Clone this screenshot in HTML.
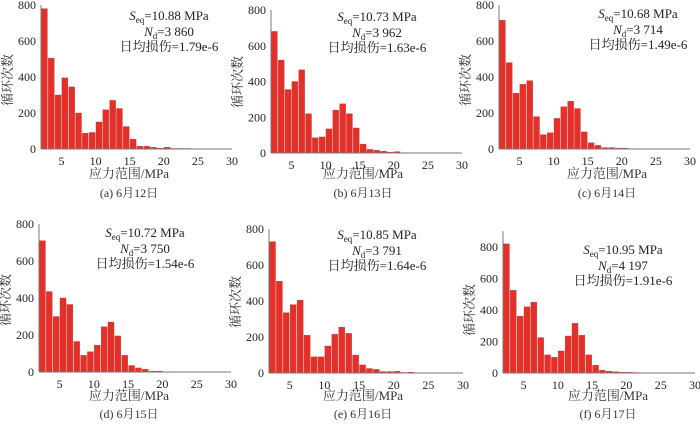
<!DOCTYPE html>
<html><head><meta charset="utf-8">
<style>
html,body{margin:0;padding:0;background:#fff;}
svg{display:block;font-family:"Liberation Serif","Noto Serif CJK SC",serif;}
</style></head>
<body>
<svg id="fig" width="700" height="424" viewBox="0 0 700 424" xmlns="http://www.w3.org/2000/svg"></svg>
<script>
// Data: cycle counts per 1 MPa stress range bin (bins starting at 2 MPa)
const xTicks = [5, 10, 15, 20, 25, 30];
const yTicks = [0, 200, 400, 600, 800];
const valsA = [780,505,300,395,345,200,88,92,150,218,270,225,125,55,15,15,10,5,10,3,3,3,1,1,1,0,0,0];
const valsB = [680,520,355,400,465,220,85,90,135,240,275,220,140,50,20,15,10,5,8,2,2,1,1,1,1,0,0,0];
const valsC = [715,480,310,360,380,180,80,90,170,235,265,225,95,35,20,8,8,5,5,2,2,1,1,1,0,0,0,0];
const valsD = [710,435,300,400,365,165,90,110,145,245,270,195,90,35,22,15,5,5,2,2,2,1,1,2,1,0,0,0];
const valsE = [730,510,335,380,405,210,90,90,150,215,255,220,100,45,25,20,8,8,10,3,5,2,1,1,1,0,0,0];
const valsF = [820,525,360,420,450,225,115,100,140,235,315,240,115,50,18,12,8,5,5,3,2,1,1,1,2,1,0,0];
const seqs = ["10.88","10.73","10.68","10.72","10.85","10.95"];
const nds = ["3 860","3 962","3 714","3 750","3 791","4 197"];
const dmgs = ["1.79e-6","1.63e-6","1.49e-6","1.54e-6","1.64e-6","1.91e-6"];
const captions = ["(a) 6月12日","(b) 6月13日","(c) 6月14日","(d) 6月15日","(e) 6月16日","(f) 6月17日"];

const panels = [
 {id:'a',vals:valsA,x0:41,x1:232,y0:149,y8:5,ymax:800,ax:169,ay:16,cx:129,ly:178,cy:197,yl:80},
 {id:'b',vals:valsB,x0:271,x1:462,y0:153,y8:10,ymax:800,ax:377,ay:17,cx:363,ly:178,cy:197,yl:82},
 {id:'c',vals:valsC,x0:499,x1:690,y0:149,y8:5,ymax:800,ax:638,ay:14,cx:607,ly:178,cy:197,yl:80},
 {id:'d',vals:valsD,x0:39,x1:231,y0:372,y8:224,ymax:800,ax:145,ay:233,cx:129,ly:400,cy:418,yl:300},
 {id:'e',vals:valsE,x0:269,x1:463,y0:373,y8:229,ymax:800,ax:377,ay:235,cx:363,ly:400,cy:418,yl:302},
 {id:'f',vals:valsF,x0:503,x1:695,y0:373,y8:247,ymax:900,ax:623,ay:250,cx:608,ly:400,cy:418,yl:310}
];
const NS='http://www.w3.org/2000/svg';
const svg=document.getElementById('fig');
function mk(tag,attrs,parent,text){
  const e=document.createElementNS(NS,tag);
  for(const k in attrs)e.setAttribute(k,attrs[k]);
  if(text!==undefined)e.textContent=text;
  (parent||svg).appendChild(e);return e;
}
panels.forEach((p,i)=>{
  const g=mk('g',{});
  
  
  const xs=v=>p.x0+(v-2)*(p.x1-p.x0)/28;
  const ys=v=>p.y0-v*(p.y0-p.y8)/800;
  const top=ys(p.ymax);
  p.vals.forEach((v,j)=>{
    if(v<=0)return;
    const b=mk('rect',{x:xs(2+j+0.06),y:ys(v),width:xs(2.94)-xs(2.06),height:p.y0-ys(v),fill:'#e5302a',stroke:'#b9352f','stroke-width':0.3},g);
    
    
  });
  const ya=mk('line',{x1:p.x0,y1:top,x2:p.x0,y2:p.y0,stroke:'#777','stroke-width':1},g);
  
  
  const xa=mk('line',{x1:p.x0,y1:p.y0,x2:p.x1,y2:p.y0,stroke:'#777','stroke-width':1},g);
  
  
  yTicks.forEach(t=>{
    const l=mk('text',{x:p.x0-5,y:ys(t)+4,'text-anchor':'end','font-size':12,fill:'#222'},g,String(t));
    
    
  });
  xTicks.forEach(t=>{
    const l=mk('text',{x:xs(t),y:p.y0+16,'text-anchor':'middle','font-size':12,fill:'#222'},g,String(t));
    
    
  });
  const yl=mk('text',{x:0,y:0,'text-anchor':'middle','font-size':13,fill:'#333',transform:'translate('+(p.x0-29)+','+p.yl+') rotate(-90)'},g,'循环次数');
  
  
  const xl=mk('text',{x:p.cx,y:p.ly,'text-anchor':'middle','font-size':13,fill:'#333'},g,'应力范围/MPa');
  
  
  const cp=mk('text',{x:p.cx,y:p.cy,'text-anchor':'middle','font-size':12,fill:'#333'},g,captions[i]);
  
  
  const t1=mk('text',{x:p.ax,y:p.ay+4,'text-anchor':'middle','font-size':13,fill:'#222'},g);
  
  
  mk('tspan',{'font-style':'italic'},t1,'S');
  mk('tspan',{'font-size':9,dy:3},t1,'eq');
  mk('tspan',{dy:-3},t1,'='+seqs[i]+' MPa');
  const t2=mk('text',{x:p.ax,y:p.ay+20,'text-anchor':'middle','font-size':13,fill:'#222'},g);
  
  
  mk('tspan',{'font-style':'italic'},t2,'N');
  mk('tspan',{'font-size':9,dy:3},t2,'d');
  mk('tspan',{dy:-3},t2,'='+nds[i]);
  const t3=mk('text',{x:p.ax,y:p.ay+35,'text-anchor':'middle','font-size':13,fill:'#222'},g,'日均损伤='+dmgs[i]);
  
  
});
</script>
</body></html>
